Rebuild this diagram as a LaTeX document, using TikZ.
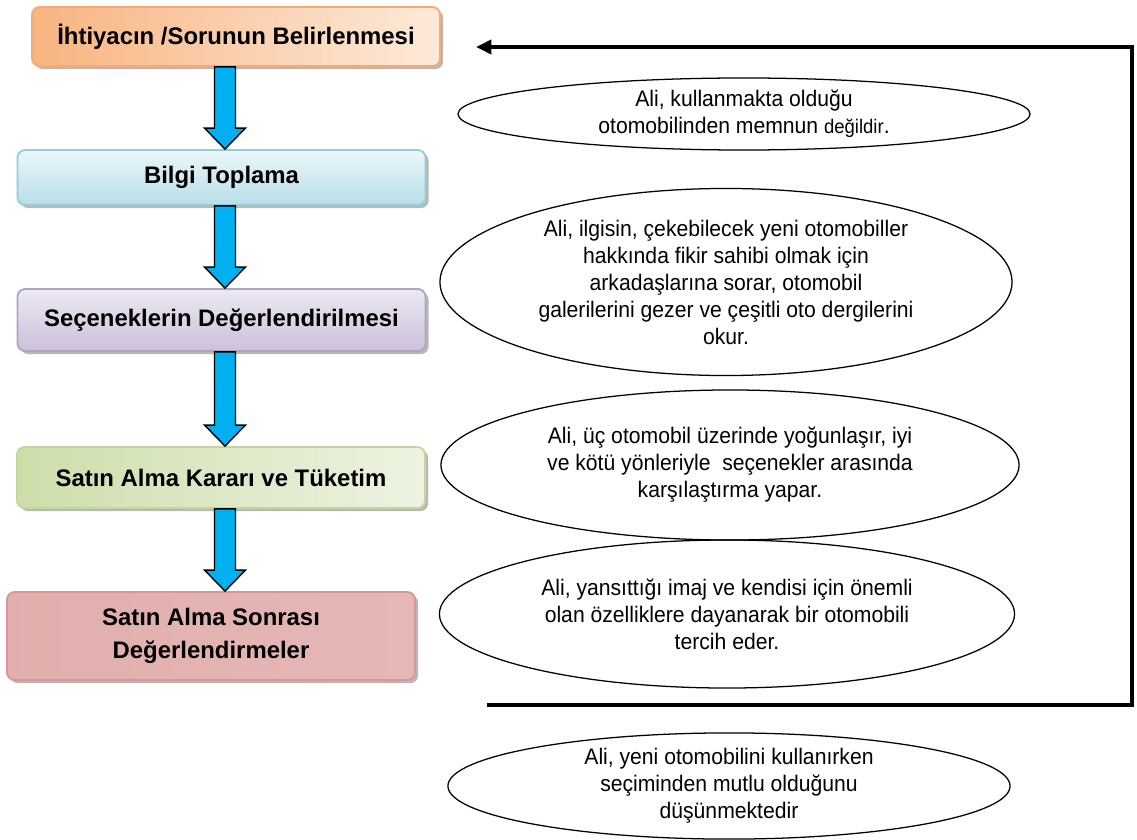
\documentclass[tikz,border=0pt]{standalone}
\usepackage{fontspec}
\setmainfont{Liberation Sans}
\newfontfamily\narrowfont{Liberation Sans}[FakeStretch=0.94]
\usepackage{tikz}
\usetikzlibrary{positioning,arrows.meta,shapes.geometric,shadows,calc}
\definecolor{NeedDark}{RGB}{248,180,128}
\definecolor{NeedLight}{RGB}{253,234,218}
\definecolor{NeedLine}{RGB}{244,170,118}
\definecolor{InfoDark}{RGB}{183,222,232}
\definecolor{InfoLight}{RGB}{236,247,250}
\definecolor{InfoLine}{RGB}{147,205,221}
\definecolor{EvalDark}{RGB}{204,193,218}
\definecolor{EvalLight}{RGB}{236,232,243}
\definecolor{EvalLine}{RGB}{179,162,199}
\definecolor{BuyDark}{RGB}{205,222,170}
\definecolor{BuyLight}{RGB}{237,243,226}
\definecolor{BuyLine}{RGB}{195,214,155}
\definecolor{PostDark}{RGB}{220,160,158}
\definecolor{PostLight}{RGB}{244,224,223}
\definecolor{PostLine}{RGB}{217,150,148}
\definecolor{ArrowCyan}{RGB}{0,176,240}
\tikzset{
  stepbox/.style={rounded corners=5.5pt, minimum width=10.2cm, align=center,
    font=\fontsize{17}{23}\selectfont\bfseries, line width=1.3pt,
    drop shadow={shadow xshift=2.2pt, shadow yshift=-2.2pt, fill=black, opacity=0.28}},
  needbox/.style={stepbox, draw=NeedLine, left color=NeedDark, right color=NeedLight, minimum height=1.475cm},
  infobox/.style={stepbox, draw=InfoLine, top color=InfoLight, bottom color=InfoDark, minimum height=1.375cm},
  evalbox/.style={stepbox, draw=EvalLine, top color=EvalLight, bottom color=EvalDark, minimum height=1.55cm},
  buybox/.style={stepbox, draw=BuyLine, left color=BuyDark, right color=BuyLight, minimum height=1.525cm},
  postbox/.style={stepbox, draw=PostLine, left color=PostDark!85, middle color=PostLight, right color=PostDark!75, minimum height=2.2cm},
  olay/.style={ellipse, draw=black, line width=0.9pt, inner sep=0pt, align=center,
    font=\narrowfont\fontsize{16}{19.2}\selectfont},
  blokok/.style={draw=black, line width=1pt, fill=ArrowCyan, line join=miter},
  geri/.style={line width=3pt, line join=miter, -{Triangle[length=11pt,width=10pt]}},
}

\begin{document}
\begin{tikzpicture}[x=0.025cm, y=-0.025cm]
  \useasboundingbox (0,0) rectangle (1137,840);
  % steps of the process
  \node[needbox] (need) at (236,36.5) {İhtiyacın /Sorunun Belirlenmesi};
  \node[infobox] (info) at (221.5,177.5) {Bilgi Toplama};
  \node[evalbox] (eval) at (221.5,320) {Seçeneklerin Değerlendirilmesi};
  \node[buybox] (buy) at (221,477.5) {Satın Alma Kararı ve Tüketim};
  \node[postbox] (post) at (211,636) {Satın Alma Sonrası\\Değerlendirmeler};
  % block arrows between the steps
  \coordinate (ax) at (225,0);
  \foreach \a/\b in {need/info, info/eval, eval/buy, buy/post}
    \draw[blokok] ($(ax |- \a.south)+(-10.5,0)$) -- ($(ax |- \b.north)+(-10.5,-21)$) -- ++(-10,0)
      -- (ax |- \b.north) -- ($(ax |- \b.north)+(20.5,-21)$) -- ++(-10,0)
      -- ($(ax |- \a.south)+(10.5,0)$) -- cycle;
  % examples
  \node[olay, minimum width=14.3cm, minimum height=1.8cm] (ex1) at (744,114)
    {Ali, kullanmakta olduğu\\otomobilinden memnun {\fontsize{14}{19.2}\selectfont değildir}.};
  \node[olay, minimum width=14.3cm, minimum height=4.675cm] (ex2) at (726,282)
    {Ali, ilgisin, çekebilecek yeni otomobiller\\hakkında fikir sahibi olmak için\\arkadaşlarına sorar, otomobil\\galerilerini gezer ve çeşitli oto dergilerini\\okur.};
  \node[olay, minimum width=14.45cm, minimum height=3.75cm] (ex3) at (730,465)
    {Ali, üç otomobil üzerinde yoğunlaşır, iyi\\ve kötü yönleriyle\ \ seçenekler arasında\\karşılaştırma yapar.};
  \node[olay, minimum width=14.375cm, minimum height=3.7cm] (ex4) at (727,614)
    {Ali, yansıttığı imaj ve kendisi için önemli\\olan özelliklere dayanarak bir otomobili\\tercih eder.};
  \node[olay, minimum width=14.05cm, minimum height=2.6cm] (ex5) at (729,786)
    {Ali, yeni otomobilini kullanırken\\seçiminden mutlu olduğunu\\düşünmektedir};
  % feedback loop
  \coordinate (fbend) at (487,705);
  \coordinate (fbdown) at (1132,705);
  \coordinate (fbup) at (1132,47);
  \coordinate (fbtip) at (476,47);
  \draw[geri] (fbend) -- (fbdown) -- (fbup) -- (fbtip);
\end{tikzpicture}
\end{document}
